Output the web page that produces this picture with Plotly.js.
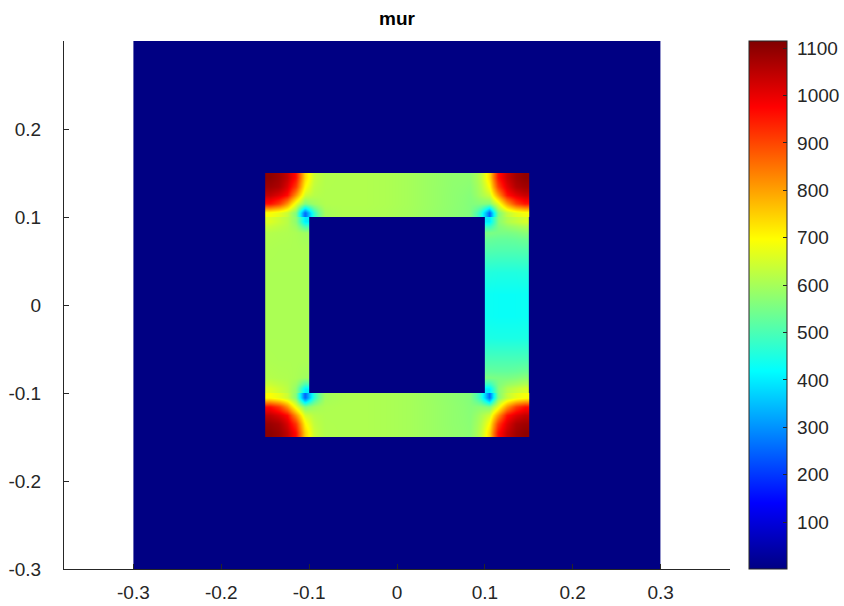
<!DOCTYPE html>
<html>
<head>
<meta charset="utf-8">
<script src="https://cdn.plot.ly/plotly-3.0.1.min.js"></script>
<style>html,body{margin:0;padding:0;background:#fff;}#chart{width:844px;height:606px;}</style>
</head>
<body>
<div id="chart"></div>
<script>
// ---- data: relative permeability "mur" ----
const airMur = [[1]];
const xEdgesAir = [-0.3, 0.3];
const yEdgesAir = [-0.3, 0.3];

// horizontal bands (top / bottom legs incl. corners)
const xEdgesHoriz = [-0.15,-0.14,-0.13,-0.12,-0.11,-0.10,-0.09,-0.075,-0.05,-0.025,0,0.025,0.05,0.075,0.09,0.10,0.11,0.12,0.13,0.14,0.15];
const yEdgesTop = [0.10,0.11,0.12,0.13,0.14,0.15];
const yEdgesBottom = [-0.15,-0.14,-0.13,-0.12,-0.11,-0.10];

const murTop = [
  [690,670,635,560,250, 470,598,610,610,606,598,586,573,560,455, 250,555,630,665,685],
  [960,910,810,670,560, 592,612,612,612,608,600,588,575,562,565, 560,665,805,905,955],
  [1040,1010,960,810,645, 618,612,612,612,608,600,588,575,565,602, 640,805,955,1005,1035],
  [1080,1065,1010,910,700, 628,613,612,612,608,600,588,576,570,615, 695,905,1005,1060,1078],
  [1100,1080,1040,960,740, 640,614,612,612,608,600,588,577,575,628, 735,955,1035,1078,1098]
];
const murBottom = [
  [1102,1085,1045,965,745, 642,612,610,610,606,600,590,579,572,630, 740,960,1040,1080,1100],
  [1085,1068,1015,915,705, 630,611,610,610,606,600,590,578,570,618, 700,910,1010,1065,1080],
  [1045,1015,965,815,650, 618,610,610,610,606,600,590,578,568,603, 645,810,960,1010,1040],
  [965,915,815,675,560, 592,608,610,610,606,600,590,578,566,570, 560,670,810,910,960],
  [695,672,638,562,245, 465,596,608,610,606,600,589,576,562,460, 255,558,632,668,690]
];

// vertical bands (left / right legs between the corners)
const yEdgesVert = [-0.10,-0.09,-0.075,-0.05,-0.025,0,0.025,0.05,0.075,0.09,0.10];
const xEdgesLeft = [-0.15,-0.14,-0.13,-0.12,-0.11,-0.10];
const xEdgesRight = [0.10,0.11,0.12,0.13,0.14,0.15];

const murLeft = [
  [662,642,622,575,405],
  [616,612,610,605,592],
  [608,607,607,607,606],
  [606,606,606,606,606],
  [605,605,605,605,605],
  [605,605,605,605,605],
  [606,606,606,606,606],
  [608,607,607,607,606],
  [615,612,610,605,592],
  [660,640,620,572,400]
];
const murRight = [
  [400,568,615,635,655],
  [555,552,552,558,570],
  [500,500,500,500,502],
  [448,447,447,447,448],
  [430,428,428,428,430],
  [430,428,428,428,430],
  [455,453,453,453,455],
  [508,506,506,506,508],
  [555,550,550,556,568],
  [400,570,612,632,652]
];

const xTickVals = [-0.3,-0.2,-0.1,0,0.1,0.2,0.3];
const xTickText = ['-0.3','-0.2','-0.1','0','0.1','0.2','0.3'];
const yTickVals = [-0.3,-0.2,-0.1,0,0.1,0.2];
const yTickText = ['-0.3','-0.2','-0.1','0','0.1','0.2'];
const cbTickVals = [100,200,300,400,500,600,700,800,900,1000,1100];
const cbTickText = ['100','200','300','400','500','600','700','800','900','1000','1100'];

// ---- drawing ----
function band(x, y, z, smooth) {
  return {type:'heatmap', x:x, y:y, z:z, coloraxis:'coloraxis',
          zsmooth: smooth ? 'best' : false, hoverinfo:'skip'};
}
const traces = [
  band(xEdgesAir, yEdgesAir, airMur, false),
  band(xEdgesHoriz, yEdgesTop, murTop, true),
  band(xEdgesHoriz, yEdgesBottom, murBottom, true),
  band(xEdgesLeft, yEdgesVert, murLeft, true),
  band(xEdgesRight, yEdgesVert, murRight, true)
];

const FAMILY = '"Liberation Sans", Arial, sans-serif';
const font = {family:FAMILY, size:19, color:'#262626'};
const layout = {
  width:844, height:606,
  margin:{l:64, r:114, t:41, b:37, pad:0, autoexpand:false},
  paper_bgcolor:'#ffffff', plot_bgcolor:'#ffffff',
  font: font,
  showlegend:false,
  title:{text:'<b>mur</b>', x:0.5, xref:'paper', xanchor:'center',
         y:1-18/606, yref:'container', yanchor:'middle',
         font:{family:FAMILY, size:19, color:'#000000'}},
  xaxis:{range:[-0.379,0.379], tickmode:'array', tickvals:xTickVals, ticktext:xTickText,
         ticks:'inside', ticklen:5, tickcolor:'#262626', showline:true, linecolor:'#262626',
         linewidth:1, showgrid:false, zeroline:false, mirror:false, ticklabelstandoff:6,
         tickfont:font, automargin:false},
  yaxis:{range:[-0.3,0.3], tickmode:'array', tickvals:yTickVals, ticktext:yTickText,
         ticks:'inside', ticklen:5, tickcolor:'#262626', showline:true, linecolor:'#262626',
         linewidth:1, showgrid:false, zeroline:false, mirror:false, ticklabelstandoff:18,
         tickfont:font, automargin:false},
  coloraxis:{
    cmin:1, cmax:1115,
    colorscale:[[0,'rgb(0,0,131)'],[0.125,'rgb(0,0,255)'],[0.375,'rgb(0,255,255)'],
                [0.625,'rgb(255,255,0)'],[0.875,'rgb(255,0,0)'],[1,'rgb(128,0,0)']],
    colorbar:{x:(749-64)/666, xanchor:'left', xpad:0, ypad:0, y:0.5, yanchor:'middle',
              len:1, lenmode:'fraction', thickness:38, thicknessmode:'pixels',
              outlinewidth:1, outlinecolor:'#262626',
              tickmode:'array', tickvals:cbTickVals,
              ticktext:cbTickText.map(function(t){return '\u00a0' + t;}),
              ticks:'inside', ticklen:4, tickcolor:'#262626',
              tickfont:{family:FAMILY, size:19, color:'#262626'}}
  }
};
Plotly.newPlot('chart', traces, layout, {displayModeBar:false, staticPlot:true});
</script>
</body>
</html>
